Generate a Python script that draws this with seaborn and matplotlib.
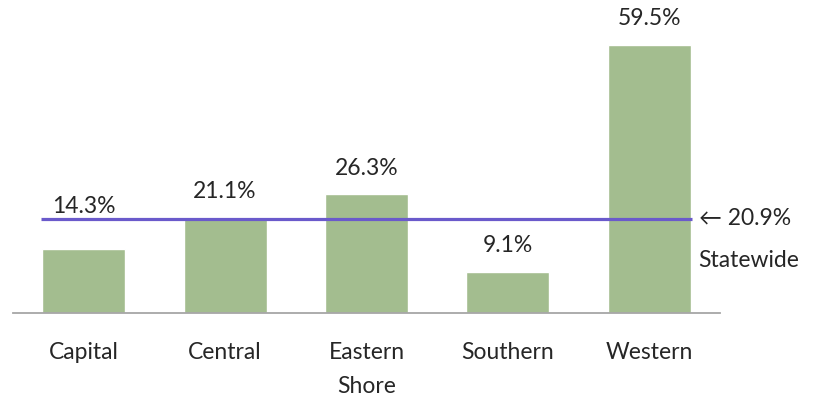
import matplotlib
matplotlib.use("Agg")
import matplotlib.pyplot as plt
import seaborn as sns
import pandas as pd

# data
regions = ["Capital", "Central", "Eastern Shore", "Southern", "Western"]
tick_labels = ["Capital", "Central", "Eastern\nShore", "Southern", "Western"]
rates = [14.3, 21.1, 26.3, 9.1, 59.5]
statewide = 20.9

BAR_COLOR = "#a3bd8f"
LINE_COLOR = "#6a5acb"
FS = 16.5

sns.set_style("white")
plt.rcParams["font.family"] = ["Lato", "DejaVu Sans"]

df = pd.DataFrame({"Region": regions, "Rate": rates})

fig = plt.figure(figsize=(8.24, 4.0), dpi=100)
ax = fig.add_axes([13 / 824, 87 / 400, 707 / 824, 293 / 400])

sns.barplot(data=df, x="Region", y="Rate", color=BAR_COLOR, width=0.587,
            saturation=1, ax=ax)

ax.set_xlim(-0.5, 4.5)
ax.set_ylim(0, 65)

# statewide line
ax.hlines(statewide, -0.3, 4.3, color=LINE_COLOR, linewidth=2.3, zorder=3)
ax.annotate("\u2190 20.9%", xy=(4.3, statewide), xytext=(5, 0),
            textcoords="offset points", va="center", ha="left",
            fontsize=FS, annotation_clip=False)
ax.annotate("Statewide", xy=(4.3, statewide), xytext=(5, -30),
            textcoords="offset points", va="center", ha="left",
            fontsize=FS, annotation_clip=False)

# value labels above bars
for i, v in enumerate(rates):
    off = 30 if v == 14.3 else 19
    ax.annotate(f"{v:.1f}%", xy=(i, v), xytext=(0, off),
                textcoords="offset points", ha="center", va="center",
                fontsize=FS)

ax.set_xticks(range(len(tick_labels)))
ax.set_xticklabels(tick_labels, fontsize=FS, linespacing=1.75)
ax.tick_params(axis="x", length=0, pad=21)
ax.set_yticks([])
ax.set_xlabel("")
ax.set_ylabel("")

for s in ["top", "left", "right"]:
    ax.spines[s].set_visible(False)
ax.spines["bottom"].set_color("#a6a6a6")
ax.spines["bottom"].set_linewidth(1.3)

fig.savefig("out.png", dpi=100)
